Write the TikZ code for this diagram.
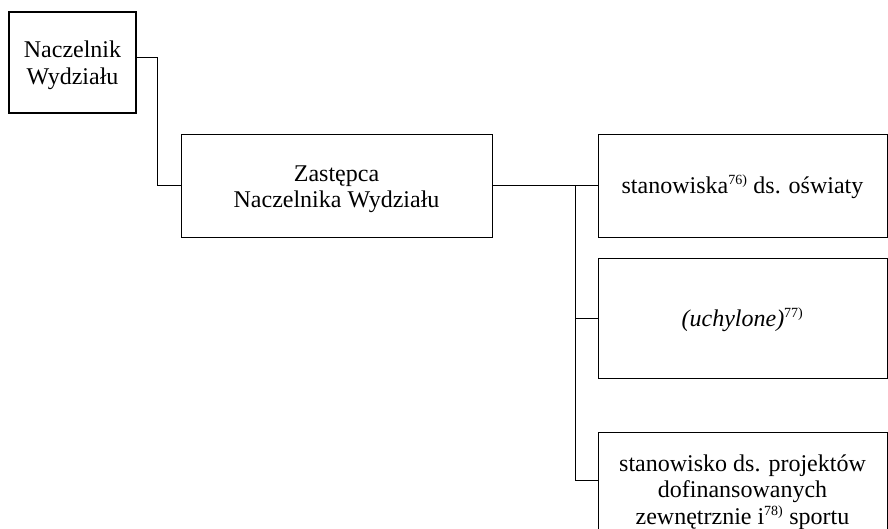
\documentclass[tikz,border=0pt]{standalone}
\usepackage{fontspec}
\setmainfont{Liberation Serif}
\newcommand{\fnref}[1]{\textsuperscript{\fontsize{14}{14}\selectfont #1}}
\begin{document}
\begin{tikzpicture}[x=1pt,y=-1pt,
  box/.style={draw, line width=0.7pt, inner sep=0pt},
  thickbox/.style={box, line width=1.6pt},
  txt/.style={align=center, inner sep=0pt, font=\fontsize{24}{26.5}\selectfont},
  conn/.style={line width=0.7pt}]
\useasboundingbox (0,0) rectangle (888,529);
\clip (0,0) rectangle (888,529);
\node[thickbox, minimum width=127pt, minimum height=101pt] (nacz) at (72.5,62.5) {};
\node[txt] (naczt) at ([yshift=-3pt]nacz.center) {Naczelnik\\Wydziału};
\node[box, minimum width=311pt, minimum height=103pt] (zast) at (336.5,185.5) {};
\node[txt] (zastt) at ([yshift=-3.5pt]zast.center) {Zastępca\\Naczelnika Wydziału};
\node[box, minimum width=289pt, minimum height=103pt] (b1) at (742.5,185.5) {};
\node[txt] (b1t) at ([yshift=-1pt]b1.center) {stanowiska\fnref{76)} ds. oświaty};
\node[box, minimum width=289pt, minimum height=120pt] (b2) at (742.5,318) {};
\node[txt] (b2t) at ([yshift=-2pt]b2.center) {\textit{(uchylone)}\fnref{77)}};
\node[box, minimum width=289pt, minimum height=116pt] (b3) at (742.5,490) {};
\node[txt] (b3t) at ([yshift=-2pt]b3.center) {stanowisko ds. projektów\\dofinansowanych\\zewnętrznie i\fnref{78)} sportu};
\coordinate (j1) at (157,57);
\coordinate (bus) at (575,186);
\coordinate (j3) at (575,480);
\draw[conn] (nacz.east |- j1) -- (j1) |- (zast.west);
\draw[conn] (zast.east) -- (b1.west);
\draw[conn] (bus) |- (b2.west);
\draw[conn] (bus) -- (j3) -- (b3.west |- j3);
\end{tikzpicture}
\end{document}
